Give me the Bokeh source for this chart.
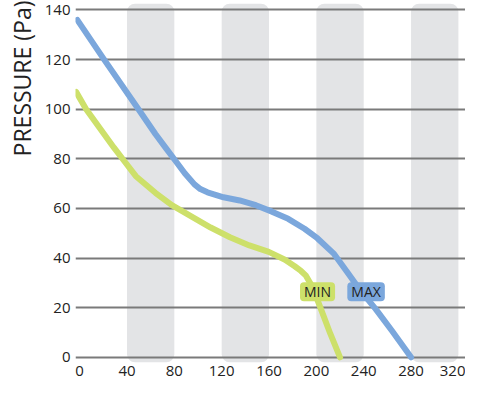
from bokeh.plotting import figure
from bokeh.models import Label, Range1d, FixedTicker
from bokeh.embed import file_html
from bokeh.resources import INLINE

# ---- data ----
max_x = [-2, 20, 49.7, 64, 72.4, 80.6, 88.8, 97, 102, 108, 121.6, 135.2, 148.9, 162.5,
         176.2, 190, 200.8, 214.5, 225.4, 236.3, 250, 263.7, 280]
max_y = [136, 120.5, 100, 90, 84.6, 79.4, 74.2, 69.7, 67.8, 66.5, 64.5, 63.2, 61.3, 58.7,
         55.8, 51.8, 48.0, 41.9, 34.8, 27.5, 19.5, 10.8, 0]

min_x = [-3, 5.5, 29, 37, 47.5, 64, 77.9, 94.3, 110.7, 127, 143.4, 159.8, 173.5,
         181.7, 187, 191.2, 196.7, 203.5, 211.7, 220]
min_y = [107, 100, 84.5, 79.5, 73, 66.3, 61.3, 56.8, 52.3, 48.4, 45.1, 42.5, 39.3,
         36.7, 34.8, 32.9, 28.3, 19.9, 9.6, 0]

x_ticks = [0, 40, 80, 120, 160, 200, 240, 280, 320]
y_ticks = [0, 20, 40, 60, 80, 100, 120, 140]
band_starts = [40, 120, 200, 280]
band_width = 40

series_labels = ["MIN", "MAX"]
label_x = [201, 242]
label_y = [26.4, 26.4]
y_title = "PRESSURE (Pa)"

BLUE = "#7ba7dc"
GREEN = "#cde06a"
FONT = "Open Sans"

p = figure(width=465, height=378,
           x_range=Range1d(-3.5, 326), y_range=Range1d(-2.5, 143),
           output_backend="svg", toolbar_location=None,
           title=y_title, title_location="left",
           min_border_left=0, min_border_right=0,
           min_border_top=2, min_border_bottom=0)
p.outline_line_color = None
p.background_fill_color = "white"

p.title.align = "right"
p.title.text_font = FONT
p.title.text_font_size = "23px"
p.title.text_font_style = "normal"
p.title.text_color = "#222222"
p.title.standoff = 7
p.title.offset = -2

# bands
band_centers = [s + band_width / 2 for s in band_starts]
bands = p.vbar(x=band_centers, width=band_width, top=142.5, bottom=-2,
               fill_color="#e3e4e6", line_color=None, level="image")
try:
    bands.glyph.border_radius = 8
except Exception:
    pass

# grid
p.xgrid.grid_line_color = None
p.ygrid.ticker = FixedTicker(ticks=y_ticks)
p.ygrid.grid_line_color = "#7a7a7a"
p.ygrid.grid_line_width = 2

# lines
p.line(min_x, min_y, line_color=GREEN, line_width=6,
       line_join="round", line_cap="round")
p.line(max_x, max_y, line_color=BLUE, line_width=6,
       line_join="round", line_cap="round")

# axes
for ax in (p.xaxis[0], p.yaxis[0]):
    ax.axis_line_color = None
    ax.major_tick_line_color = None
    ax.minor_tick_line_color = None
    ax.major_tick_out = 0
    ax.major_tick_in = 0
    ax.major_label_text_font = FONT
    ax.major_label_text_font_size = "15px"
    ax.major_label_text_color = "#222222"

p.xaxis[0].ticker = FixedTicker(ticks=x_ticks)
p.xaxis[0].major_label_standoff = 2
p.yaxis[0].ticker = FixedTicker(ticks=y_ticks)
p.yaxis[0].major_label_standoff = 5

# series labels
for txt, lx, ly, col in zip(series_labels, label_x, label_y, [GREEN, BLUE]):
    lab = Label(x=lx, y=ly, text=txt, text_align="center", text_baseline="middle",
                text_font=FONT, text_font_size="14px", text_color="#222222",
                background_fill_color=col)
    try:
        lab.padding = (4, 0)
        lab.border_radius = 4
    except Exception:
        pass
    p.add_layout(lab)

open("out.html", "w").write(file_html(p, INLINE))
